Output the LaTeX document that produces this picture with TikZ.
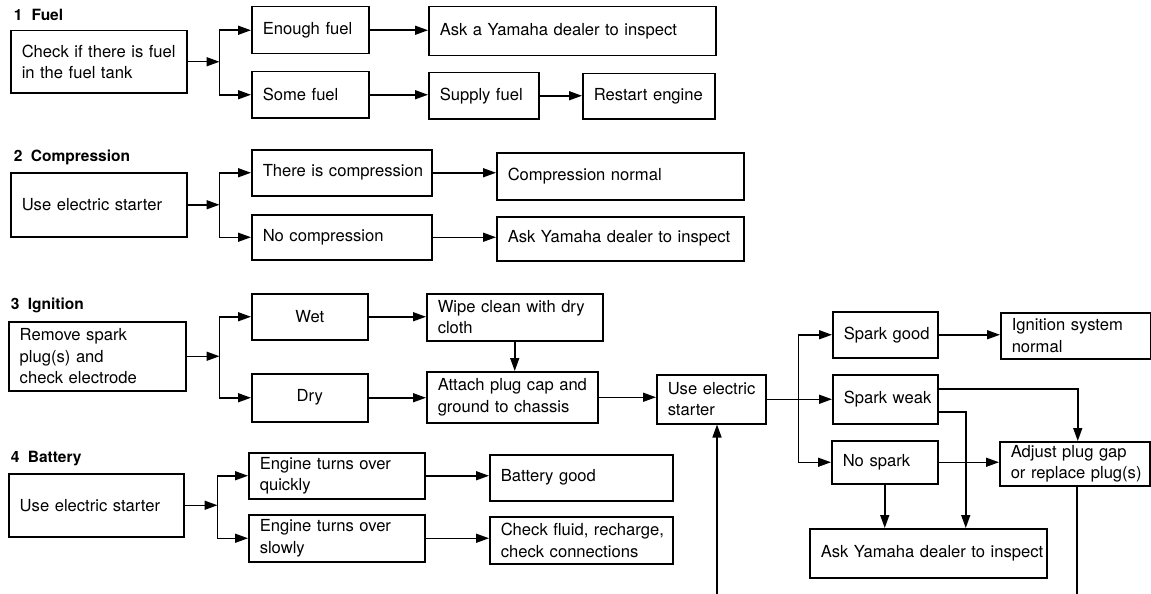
\documentclass[tikz,border=0pt]{standalone}
\usepackage{fontspec}
\setmainfont{TeX Gyre Heros}
\usetikzlibrary{arrows.meta}
\newcommand\rbox[7][]{%
  \pgfmathsetmacro\myBW{#5-#3}%
  \pgfmathsetmacro\myBH{#6-#4}%
  \pgfmathsetmacro\myTW{#5-#3-22}%
  \node[box,anchor=north west,minimum width=\myBW pt,minimum height=\myBH pt,text width=\myTW pt,#1] (#2) at (#3,#4) {#7};}
\begin{document}
\begin{tikzpicture}[x=1pt,y=-1pt,line width=1.5pt,
  box/.style={draw,rectangle,inner xsep=11pt,inner ysep=3pt,align=left,
    font=\fontsize{16.6}{21.5}\selectfont,
    execute at begin node={\hyphenpenalty=10000\exhyphenpenalty=10000\hbadness=10000\hfuzz=30pt\relax}},
  head/.style={anchor=west,inner sep=0pt,font=\fontsize{15.5}{18}\selectfont\bfseries},
  arr/.style={-{Triangle[length=13pt,width=9pt]}}]
\useasboundingbox (0,0) rectangle (1151,594);
% ---------- 1 Fuel
\node[head] (h1) at (13,15) {1\hspace{0.6em}Fuel};
\rbox{f0}{10}{30}{186}{92}{Check~if~there~is~fuel\\in~the~fuel~tank}
\rbox{f1}{251}{6}{368}{53}{Enough~fuel}
\rbox{f2}{251}{71}{368}{117}{Some~fuel}
\rbox{f3}{428}{6}{715}{55}{Ask~a~Yamaha~dealer~to~inspect}
\rbox{f4}{428}{72}{538}{118}{Supply~fuel}
\rbox{f5}{582}{73}{714}{118}{Restart~engine}
\path (f0.east) ++(32,0) coordinate (j1);
\draw[arr] (f0.east) -- (j1);
\draw[arr] (j1) |- (f1.west);
\draw[arr] (j1) |- (f2.west);
\draw[arr] (f1.east) -- (f1.east -| f3.west);
\draw[arr] (f2.east) -- (f2.east -| f4.west);
\draw[arr] (f4.east) -- (f4.east -| f5.west);
% ---------- 2 Compression
\node[head] (h2) at (13,157) {2\hspace{0.55em}Compression};
\rbox{c0}{10}{172}{186}{236}{Use~electric~starter}
\rbox{c1}{251}{149}{431}{195}{There~is~compression}
\rbox{c2}{251}{214}{431}{259}{No~compression}
\rbox{c3}{496}{152}{743}{199}{Compression~normal}
\rbox{c4}{496}{216}{743}{260}{Ask~Yamaha~dealer~to~inspect}
\path (c0.east) ++(32,0) coordinate (j2);
\draw[arr] (c0.east) -- (j2);
\draw[arr] (j2) |- (c1.west);
\draw[arr] (j2) |- (c2.west);
\draw[arr] (c1.east) -- (c1.east -| c3.west);
\draw[arr] (c2.east) -- (c2.east -| c4.west);
% ---------- 3 Ignition
\node[head] (h3) at (10,305) {3\hspace{0.55em}Ignition};
\rbox{i0}{8}{321}{185}{390}{Remove~spark\\plug(s)~and\\check~electrode}
\rbox[align=center]{i1}{251}{293}{367}{339}{Wet}
\rbox[align=center]{i2}{251}{373}{367}{421}{Dry}
\rbox{i3}{426}{293}{602}{340}{Wipe~clean~with~dry\\cloth}
\rbox{i4}{426}{371}{597}{422}{Attach~plug~cap~and\\ground~to~chassis}
\rbox{i5}{656}{374}{765}{423}{Use~electric\\starter}
\rbox{i6}{832}{311}{937}{357}{Spark~good}
\rbox{i7}{1000}{312}{1150}{358}{Ignition~system\\normal}
\rbox{i8}{832}{374}{937}{423}{Spark~weak}
\rbox{i9}{831}{440}{937}{483}{No~spark}
\rbox{i10}{999}{441}{1149}{485}{Adjust~plug~gap\\or~replace~plug(s)}
\rbox{i11}{809}{528}{1046}{577}{Ask~Yamaha~dealer~to~inspect}
\path (i0.east) ++(33,0) coordinate (j3);
\draw[arr] (i0.east) -- (j3);
\draw[arr] (j3) |- (i1.west);
\draw[arr] (j3) |- (i2.west);
\draw[arr] (i1.east) -- (i1.east -| i3.west);
\draw[arr] (i3.south) -- (i3.south |- i4.north);
\draw[arr] (i2.east) -- (i2.east -| i4.west);
\draw[arr] (i4.east) -- (i4.east -| i5.west);
\coordinate (u0) at (717,594);
\draw[arr] (u0) -- (u0 |- i5.south);
\draw[arr] (i5.east) -- (i5.east -| i8.west);
\path (i5.east) ++(32,0) coordinate (j4);
\draw[arr] (j4) |- (i6.west);
\draw[arr] (j4) |- (i9.west);
\draw[arr] (i6.east) -- (i6.east -| i7.west);
\draw[arr] ([yshift=10.5pt]i8.east) -| ([xshift=3pt]i10.north);
\draw[arr] ([yshift=-12.5pt]i8.east) -| ([xshift=37.5pt]i11.north);
\draw[arr] (i9.east) -- (i9.east -| i10.west);
\draw[arr] (i9.south) -- (i9.south |- i11.north);
\coordinate (d0) at (1077,594);
\draw (d0 |- i10.south) -- (d0);
% ---------- 4 Battery
\node[head] (h4) at (10,459) {4\hspace{0.55em}Battery};
\rbox{b0}{8}{473}{183}{536}{Use~electric~starter}
\rbox{b1}{248}{452}{424}{498}{Engine~turns~over\\quickly}
\rbox{b2}{248}{514}{424}{561}{Engine~turns~over\\slowly}
\rbox{b3}{489}{454}{672}{500}{Battery~good}
\rbox{b4}{489}{516}{672}{563}{Check~fluid,~recharge,\\check~connections}
\path (b0.east) ++(33,0) coordinate (j5);
\draw[arr] (b0.east) -- (j5);
\draw[arr] (j5) |- (b1.west);
\draw[arr] (j5) |- (b2.west);
\draw[arr] (b1.east) -- (b1.east -| b3.west);
\draw[arr] (b2.east) -- (b2.east -| b4.west);
\end{tikzpicture}
\end{document}
